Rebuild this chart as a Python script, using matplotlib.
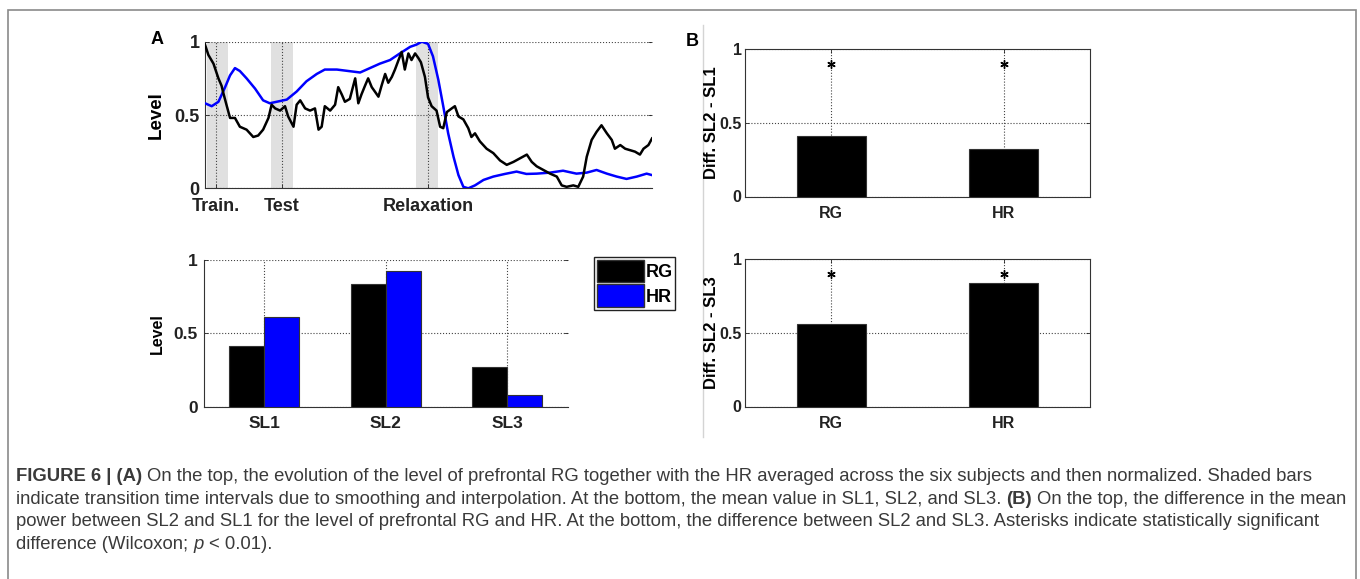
import matplotlib
matplotlib.use('Agg')
import matplotlib.pyplot as plt
from matplotlib.patches import Patch, Rectangle
from matplotlib.lines import Line2D

plt.rcParams['font.family'] = ['Liberation Sans', 'DejaVu Sans']

# ---- data: panel A top (time courses, normalized) ----
t_rg = [0, 0.75, 1.9, 3.0, 3.7, 4.1, 4.8, 5.6, 6.7, 7.8,
        9.3, 10.8, 11.9, 13.0, 14.2, 14.9, 15.7, 16.8, 17.9, 18.6,
        19.8, 20.5, 21.3, 22.4, 23.5, 24.6, 25.4, 26.1, 26.8, 28.0,
        29.1, 29.8, 30.6, 31.3, 32.4, 33.6, 34.3, 35.0, 35.8, 36.5,
        37.3, 38.0, 38.8, 39.5, 40.3, 41.0, 41.8, 42.5, 43.3, 44.0,
        44.7, 45.5, 46.2, 47.0, 47.7, 48.3, 49.2, 49.9, 50.7, 51.8,
        52.6, 53.3, 54.1, 55.2, 55.9, 56.7, 57.8, 58.9, 59.6, 60.4,
        61.5, 63.0, 64.5, 66.0, 67.5, 69.0, 70.5, 72.0, 73.1, 74.2,
        75.7, 77.2, 78.7, 79.8, 80.9, 82.4, 83.5, 84.6, 85.4, 86.5,
        87.6, 88.7, 89.9, 91.0, 91.7, 92.9, 94.0, 95.1, 96.2, 97.3,
        98.1, 99.2, 100]
rg_level = [0.98, 0.91, 0.85, 0.75, 0.70, 0.65, 0.57, 0.48, 0.48, 0.42,
            0.40, 0.35, 0.36, 0.40, 0.48, 0.57, 0.545, 0.53, 0.56, 0.49,
            0.42, 0.57, 0.60, 0.545, 0.53, 0.545, 0.40, 0.42, 0.56, 0.53,
            0.57, 0.69, 0.64, 0.59, 0.61, 0.75, 0.58, 0.64, 0.70, 0.75,
            0.69, 0.66, 0.625, 0.70, 0.78, 0.72, 0.76, 0.81, 0.875, 0.93,
            0.81, 0.92, 0.875, 0.92, 0.89, 0.86, 0.76, 0.62, 0.56, 0.53,
            0.42, 0.41, 0.52, 0.545, 0.56, 0.49, 0.47, 0.41, 0.35, 0.375,
            0.32, 0.27, 0.24, 0.19, 0.16, 0.18, 0.205, 0.23, 0.18, 0.15,
            0.125, 0.10, 0.08, 0.02, 0.01, 0.02, 0.01, 0.08, 0.215, 0.33,
            0.385, 0.43, 0.375, 0.33, 0.27, 0.295, 0.27, 0.26, 0.25, 0.23,
            0.27, 0.295, 0.34]

t_hr = [0, 1.5, 3.0, 4.5, 5.6, 6.7, 7.8, 9.3, 11.2, 13.0,
        14.5, 16.0, 18.3, 20.5, 22.7, 25.0, 26.8, 29.5, 32.1, 34.7,
        36.9, 39.1, 41.4, 43.6, 45.9, 47.3, 48.5, 49.9, 51.0, 52.2,
        53.3, 54.4, 55.6, 56.7, 57.8, 58.9, 60.4, 62.3, 64.5, 67.1,
        69.7, 71.9, 74.2, 77.2, 80.1, 83.1, 85.4, 87.6, 89.9, 92.1,
        94.3, 96.6, 98.8, 100]
hr_level = [0.58, 0.56, 0.59, 0.69, 0.77, 0.82, 0.80, 0.75, 0.68, 0.60,
            0.58, 0.59, 0.605, 0.66, 0.73, 0.78, 0.81, 0.81, 0.80, 0.79,
            0.82, 0.85, 0.875, 0.92, 0.965, 0.98, 1.0, 0.985, 0.90, 0.74,
            0.56, 0.375, 0.215, 0.09, 0.01, 0.0, 0.02, 0.057, 0.08, 0.098,
            0.114, 0.098, 0.10, 0.107, 0.12, 0.10, 0.107, 0.125, 0.10, 0.08,
            0.064, 0.08, 0.10, 0.09]

phase_ticks = [2.5, 17.2, 49.9]
phase_labels = ['Train.', 'Test', 'Relaxation']
shade_spans = [(0.4, 5.1), (14.8, 19.7), (47.2, 52.1)]

# ---- data: panel A bottom (mean level per stage) ----
stages = ['SL1', 'SL2', 'SL3']
rg_mean = [0.414, 0.834, 0.273]
hr_mean = [0.614, 0.927, 0.080]

# ---- data: panel B (differences) ----
signals = ['RG', 'HR']
diff_21 = [0.409, 0.320]
diff_23 = [0.559, 0.837]
star_level = 0.9

W, H = 1360, 579
fig = plt.figure(figsize=(W / 100, H / 100), dpi=100)

grid_kw = dict(ls=':', color='#444444', lw=0.8)


def style_axes(ax, box, size, ypad=4):
    ax.grid(True, **grid_kw)
    ax.set_axisbelow(True)
    ax.tick_params(direction='in', length=3, width=0.6, colors='#222222',
                   right=True, top=box, labelsize=size, pad=ypad)
    ax.tick_params(axis='x', pad=6.5)
    for lab in ax.get_xticklabels() + ax.get_yticklabels():
        lab.set_fontweight('bold')
    for s in ax.spines.values():
        s.set_color('#333333')
        s.set_linewidth(0.8)
    if not box:
        ax.spines['top'].set_visible(False)
        ax.spines['right'].set_visible(False)


def fig_box(l, t, w, h):
    # pixel box (left, top, width, height) -> figure fraction
    return [l / W, 1 - (t + h) / H, w / W, h / H]


# panel A top
ax1 = fig.add_axes(fig_box(205, 41.7, 447, 146.6))
for s0, s1 in shade_spans:
    ax1.axvspan(s0, s1, color='#e0e0e0', lw=0, zorder=0)
ax1.plot(t_hr, hr_level, color='#0000ff', lw=1.8, zorder=3)
ax1.plot(t_rg, rg_level, color='black', lw=1.8, zorder=4)
ax1.set_xlim(0, 100)
ax1.set_ylim(0, 1)
ax1.set_xticks(phase_ticks, phase_labels)
ax1.set_yticks([0, 0.5, 1], ['0', '0.5', '1'])
style_axes(ax1, False, 13)
ax1.tick_params(axis='x', pad=7)
ax1.set_ylabel('Level', fontsize=13.5, fontweight='bold')
ax1.yaxis.set_label_coords((165 - 205) / 447, 0.5)

# panel A bottom
ax2 = fig.add_axes(fig_box(203.5, 260, 364.5, 146.7))
pos = [1, 2, 3]
bw = 0.29
ax2.bar([p - bw / 2 for p in pos], rg_mean, bw, color='black',
        edgecolor='#333333', lw=0.8, label='RG', zorder=3)
ax2.bar([p + bw / 2 for p in pos], hr_mean, bw, color='#0000ff',
        edgecolor='#333333', lw=0.8, label='HR', zorder=3)
ax2.set_xlim(0.5, 3.5)
ax2.set_ylim(0, 1)
ax2.set_xticks(pos, stages)
ax2.set_yticks([0, 0.5, 1], ['0', '0.5', '1'])
style_axes(ax2, False, 12.5)
ax2.set_ylabel('Level', fontsize=11.5, fontweight='bold')
ax2.yaxis.set_label_coords((165 - 203.5) / 364.5, 0.5)

fig.legend(handles=[Patch(facecolor='black', edgecolor='#333333'),
                    Patch(facecolor='#0000ff', edgecolor='#333333')],
           labels=['RG', 'HR'], loc='upper left',
           bbox_to_anchor=(594 / W, 1 - 257 / H), frameon=True,
           fancybox=False, edgecolor='#222222', framealpha=1,
           prop=dict(weight='bold', size=13), handlelength=2.6,
           handleheight=1.55, borderpad=0.15, labelspacing=0.12,
           handletextpad=0.1, borderaxespad=0)

# panel B
for top, vals, ylab in [(49.3, diff_21, 'Diff. SL2 - SL1'),
                        (259.3, diff_23, 'Diff. SL2 - SL3')]:
    ax = fig.add_axes(fig_box(745, top, 345, 147.2))
    ax.bar([1, 2], vals, 0.4, color='black', edgecolor='#333333', lw=0.8,
           zorder=3)
    ax.plot([1, 2], [star_level, star_level], ls='none', marker=(6, 2, 0),
            ms=6, mew=1, color='black', zorder=4)
    ax.set_xlim(0.5, 2.5)
    ax.set_ylim(0, 1)
    ax.set_xticks([1, 2], signals)
    ax.set_yticks([0, 0.5, 1], ['0', '0.5', '1'])
    style_axes(ax, True, 11.5, ypad=2.5)
    ax.set_ylabel(ylab, fontsize=12, fontweight='bold')
    ax.yaxis.set_label_coords((719 - 745) / 345, 0.5)

# panel letters
fig.text(157 / W, 1 - 40 / H, 'A', fontsize=13, fontweight='bold',
         ha='center', va='center')
fig.text(692 / W, 1 - 42 / H, 'B', fontsize=13, fontweight='bold',
         ha='center', va='center')

# frame and divider
fig.add_artist(Rectangle((8 / W, -0.05), 1348 / W, 1.05 - 10 / H,
                         transform=fig.transFigure, fill=False,
                         edgecolor='#8a8a8a', lw=1.2))
fig.add_artist(Line2D([703 / W, 703 / W], [1 - 25 / H, 1 - 437 / H],
                      transform=fig.transFigure, color='#d4d4d4', lw=1,
                      zorder=-1))

# caption
cap = fig.add_axes([0, 0, 1, 1])
cap.axis('off')
cap.set_zorder(-1)
cap_fs = 13.3
cap_col = '#3a3a3a'
caption = [
    (481, [('FIGURE 6 | (A)', 'bold', 'normal'),
           ('On the top, the evolution of the level of prefrontal RG together with '
            'the HR averaged across the six subjects and then normalized. Shaded bars',
            'normal', 'normal')]),
    (504, [('indicate transition time intervals due to smoothing and interpolation. '
            'At the bottom, the mean value in SL1, SL2, and SL3.', 'normal', 'normal'),
           ('(B)', 'bold', 'normal'),
           ('On the top, the difference in the mean', 'normal', 'normal')]),
    (526, [('power between SL2 and SL1 for the level of prefrontal RG and HR. At the '
            'bottom, the difference between SL2 and SL3. Asterisks indicate '
            'statistically significant', 'normal', 'normal')]),
    (549, [('difference (Wilcoxon;', 'normal', 'normal'),
           ('p', 'normal', 'italic'),
           ('< 0.01).', 'normal', 'normal')]),
]
for ypix, pieces in caption:
    prev = None
    for txt, wt, st in pieces:
        kw = dict(fontsize=cap_fs, color=cap_col, fontweight=wt, fontstyle=st)
        if prev is None:
            prev = cap.text(16 / W, 1 - ypix / H, txt, ha='left', va='baseline',
                            transform=fig.transFigure, **kw)
        else:
            prev = cap.annotate(txt, xy=(1, 0), xycoords=prev, xytext=(3.7, 0),
                                textcoords='offset points', ha='left',
                                va='bottom', **kw)

fig.savefig('out.png', dpi=100)
